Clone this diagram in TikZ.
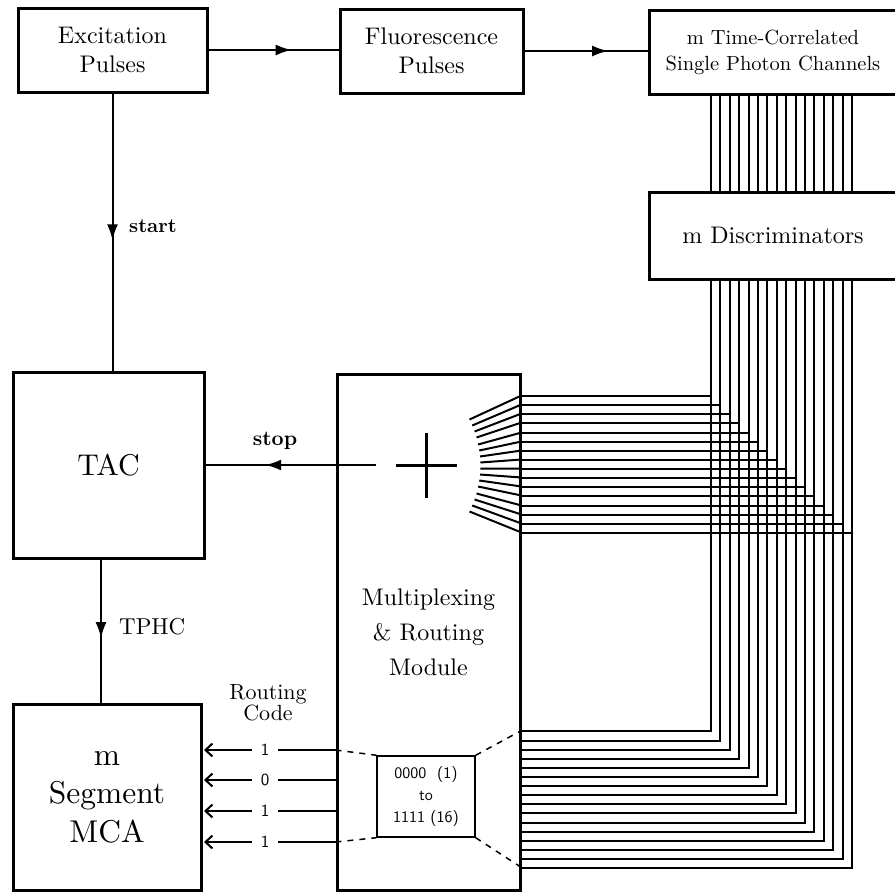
\documentclass[tikz,border=0pt]{standalone}
\usepackage{fontspec}
\setmainfont{lmroman10-regular.otf}[BoldFont=lmroman10-bold.otf, ItalicFont=lmroman10-italic.otf]
\setsansfont{lmsans10-regular.otf}[BoldFont=lmsans10-bold.otf]
\usetikzlibrary{arrows.meta,decorations.markings,calc}
\begin{document}
\tikzset{
  box/.style={draw, line width=3pt, inner sep=0pt, align=center},
  conn/.style={line width=2pt},
  bus/.style={line width=2pt},
  midarr/.style={postaction={decorate}, decoration={markings, mark=at position #1 with {\arrow{Latex[length=16pt,width=11pt]}}}},
  rarrow/.style={line width=2pt, -{Straight Barb[length=7pt,width=13pt]}, shorten >=1.5pt},
  dsh/.style={line width=1.5pt, dash pattern=on 6pt off 6pt},
  rlabel/.style={font=\sffamily\fontsize{17}{17}\selectfont, inner sep=0pt, minimum width=26pt, minimum height=12pt},
  ticklbl/.style={font=\fontsize{20}{20}\selectfont\bfseries, inner sep=0pt}
}
\begin{tikzpicture}[x=1pt,y=-1pt]
\useasboundingbox (0,0) rectangle (895,894);
\clip (0,0) rectangle (895,894);
% boxes
\node[box, minimum width=189pt, minimum height=84pt, font=\fontsize{24}{29}\selectfont] (exc) at (112.5,50) {Excitation\\Pulses};
\node[box, minimum width=183pt, minimum height=84pt, font=\fontsize{24}{29}\selectfont] (flu) at (431.5,51) {Fluorescence\\Pulses};
\node[box, minimum width=248pt, minimum height=84pt, font=\fontsize{20.5}{26}\selectfont] (tc) at (773,52) {m Time-Correlated\\Single Photon Channels};
\node[box, minimum width=248pt, minimum height=87pt, font=\fontsize{24}{28}\selectfont] (disc) at (773,235.5) {m Discriminators};
\node[box, minimum width=191pt, minimum height=186pt, font=\fontsize{30}{36}\selectfont] (tac) at (108.5,465) {TAC};
\node[box, minimum width=183pt, minimum height=516pt, font=\fontsize{24}{35}\selectfont] (mod) at (428.5,632) {Multiplexing\\\&\ Routing\\Module};
\node[box, minimum width=188pt, minimum height=186pt, font=\fontsize{31.5}{38.5}\selectfont] (mca) at (107,797) {m\\Segment\\MCA};
\node[box, line width=1.5pt, minimum width=98pt, minimum height=81pt, font=\sffamily\fontsize{16}{22}\selectfont] (rbox) at (426,796.5) {0000\ \ (1)\\to\\1111 (16)};

% main connectors
\draw[conn, midarr=0.64] (exc.east) -- (exc.east -| flu.west);
\draw[conn, midarr=0.68] (flu.east) -- (flu.east -| tc.west);
\draw[conn, midarr=0.53] (exc.south) -- (exc.south |- tac.north);
\node[ticklbl, anchor=west] (startlbl) at (129,226) {start};
\coordinate (t1) at ([xshift=-7.5pt]tac.south);
\draw[conn, midarr=0.55] (t1) -- (t1 |- mca.north);
\node[font=\fontsize{23}{23}\selectfont, inner sep=0pt, anchor=west] (tphc) at (119,627) {TPHC};

% stop line and summing cross
\coordinate (stopA) at (376,465);
\draw[conn, midarr=0.65] (stopA) -- (stopA -| tac.east);
\node[ticklbl, font=\fontsize{21}{21}\selectfont\bfseries] (stoplbl) at (275,441) {stop};
\coordinate (cross) at (426,465);
\draw[line width=3pt] ($(cross)+(-30,0)$) -- ($(cross)+(31,0)$);
\draw[line width=3pt] ($(cross)+(0,-32)$) -- ($(cross)+(0,33)$);

% buses
\foreach \i in {0,...,15} {
  \pgfmathsetmacro{\dx}{round(63+9.4*\i)}
  \pgfmathsetmacro{\dyu}{round(23+9.13*\i)}
  \pgfmathsetmacro{\dyl}{round(160.5-9.1*\i)}
  \pgfmathsetmacro{\tv}{(\i-7.5)/7.5}
  \pgfmathsetmacro{\fx}{-41-11*\tv*\tv}
  \pgfmathsetmacro{\fy}{1.5-22.5*\tv}
  \draw[bus] ([xshift=\dx pt]tc.south west) -- ([xshift=\dx pt]disc.north west);
  \draw[bus] ([xshift=\dx pt]disc.south west) |- ([yshift=\dyl pt]mod.south east);
  \draw[bus] ([yshift=-\dyu pt]mod.north east) -| ([xshift=\dx pt]disc.south west);
  \draw[bus] ([yshift=-\dyu pt]mod.north east) -- ++(\fx,\fy);
}

% routing code
\node[font=\fontsize{22}{21}\selectfont, align=center, inner sep=0pt] (rc) at (268,703) {Routing\\Code};
\node[rlabel] (r1) at (265,750) {1};
\node[rlabel] (r2) at (265,780) {0};
\node[rlabel] (r3) at (265,811) {1};
\node[rlabel] (r4) at (265,842) {1};
\foreach \r in {r1,r2,r3,r4} {
  \draw[rarrow] (\r.west) -- (\r -| mca.east);
  \draw[conn] (\r.east) -- (\r -| mod.west);
}
\draw[dsh] (r1 -| mod.west) -- (rbox.north west);
\draw[dsh] (r4 -| mod.west) -- (rbox.south west);
\draw[dsh] (rbox.north east) -- ([yshift=161pt]mod.south east);
\draw[dsh] (rbox.south east) -- ([yshift=24pt]mod.south east);
\end{tikzpicture}
\end{document}
